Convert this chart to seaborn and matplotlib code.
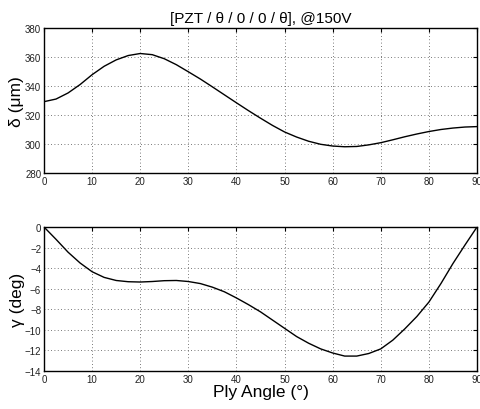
import numpy as np
import pandas as pd
import seaborn as sns
from matplotlib import pyplot as plt

# ply angle (deg) and read-off values
angle = [0, 2.5, 5, 7.5, 10, 12.5, 15, 17.5, 20, 22.5, 25, 27.5, 30, 32.5, 35, 37.5, 40,
         42.5, 45, 47.5, 50, 52.5, 55, 57.5, 60, 62.5, 65, 67.5, 70, 72.5, 75, 77.5, 80,
         82.5, 85, 87.5, 90]
deflection = [329.2, 331.0, 335.2, 341.0, 347.8, 353.6, 358.0, 361.0, 362.4, 361.6, 358.8, 354.7, 349.8,
              344.8, 339.4, 333.9, 328.4, 323.0, 317.8, 312.8, 308.3, 304.8, 301.9, 299.8, 298.6,
              298.1, 298.3, 299.4, 300.9, 302.9, 305.0, 306.9, 308.6, 310.0, 311.0, 311.7, 312.0]
twist = [0.0, -1.2, -2.45, -3.5, -4.35, -4.9, -5.2, -5.32, -5.35, -5.3, -5.22, -5.2, -5.3,
         -5.5, -5.85, -6.3, -6.9, -7.55, -8.25, -9.05, -9.85, -10.65, -11.3, -11.85, -12.25,
         -12.55, -12.55, -12.3, -11.85, -11.0, -9.9, -8.7, -7.3, -5.5, -3.55, -1.75, 0.0]

df = pd.DataFrame({'angle': angle, 'delta': deflection, 'gamma': twist})

sns.set_style('white')
plt.rcParams['font.family'] = ['Liberation Sans', 'DejaVu Sans']
plt.rcParams['text.color'] = 'black'
plt.rcParams['axes.labelcolor'] = 'black'

fig = plt.figure(figsize=(4.81, 4.10), dpi=100)
ax1 = fig.add_axes([0.0915, 0.5756, 0.9002, 0.3537])
ax2 = fig.add_axes([0.0915, 0.0927, 0.9002, 0.3512])

sns.lineplot(data=df, x='angle', y='delta', ax=ax1, color='black', linewidth=1.0)
sns.lineplot(data=df, x='angle', y='gamma', ax=ax2, color='black', linewidth=1.0)

ax1.set_xlim(0, 90)
ax1.set_ylim(280, 380)
ax1.set_yticks(np.arange(280, 381, 20))
ax2.set_xlim(0, 90)
ax2.set_ylim(-14, 0)
ax2.set_yticks(np.arange(-14, 1, 2))

for ax in (ax1, ax2):
    ax.set_xticks(np.arange(0, 91, 10))
    ax.grid(True, linestyle=(0, (1, 3)), color='black', linewidth=0.6, alpha=0.7)
    ax.tick_params(direction='in', length=3, labelsize=7, top=True, right=True,
                   colors='black', labelcolor='#222222', pad=2)
    for s in ax.spines.values():
        s.set_color('black')
        s.set_linewidth(1.0)
    ax.set_xlabel('')

ax1.set_ylabel('δ (μm)', fontsize=12.5, labelpad=1, color='black')
ax1.set_title('[PZT / θ / 0 / 0 / θ], @150V', fontsize=11, pad=4, color='black')
ax2.set_ylabel('γ (deg)', fontsize=12.5, labelpad=0, color='black')
ax2.set_xlabel('Ply Angle (°)', fontsize=12.5, labelpad=0, color='black')

fig.savefig('out.png', dpi=100)
